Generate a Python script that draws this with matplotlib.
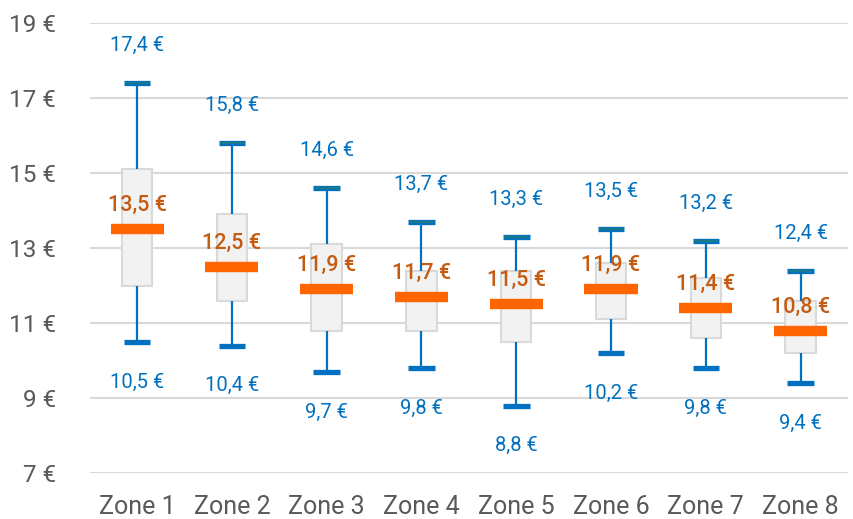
"""Price distribution per zone, box-style summary with labelled min/median/max."""

import matplotlib

matplotlib.use("Agg")
import matplotlib.pyplot as plt  # noqa: E402

plt.rcParams["font.family"] = ["Roboto", "DejaVu Sans"]

zones = ["Zone 1", "Zone 2", "Zone 3", "Zone 4", "Zone 5", "Zone 6", "Zone 7", "Zone 8"]
minimum = [10.5, 10.4, 9.7, 9.8, 8.8, 10.2, 9.8, 9.4]
q1 = [12.0, 11.6, 10.8, 10.8, 10.5, 11.1, 10.6, 10.2]
median = [13.5, 12.5, 11.9, 11.7, 11.5, 11.9, 11.4, 10.8]
q3 = [15.1, 13.9, 13.1, 12.4, 12.4, 12.6, 12.2, 11.6]
maximum = [17.4, 15.8, 14.6, 13.7, 13.3, 13.5, 13.2, 12.4]
y_ticks = [7, 9, 11, 13, 15, 17, 19]

BLUE = "#0070C0"
TEAL = "#1A7A8C"
ORANGE = "#FF6600"
ORANGE_TEXT = "#C55A11"
GREY_TEXT = "#595959"


def euro(value: float) -> str:
    return f"{value:.1f} €".replace(".", ",")


fig = plt.figure(figsize=(8.54, 5.19), dpi=100)
ax = fig.add_axes([0.105, 0.0886, 0.888, 0.8671])
positions = list(range(len(zones)))

ax.bar(positions, [hi - lo for hi, lo in zip(q3, q1)], bottom=q1, width=0.32,
       color="#F2F2F2", edgecolor="#D9D9D9", linewidth=1.5, zorder=2)
ax.vlines(positions, minimum, q1, color=BLUE, linewidth=1.6, zorder=3)
ax.vlines(positions, q3, maximum, color=BLUE, linewidth=1.6, zorder=3)
for x, lo, hi in zip(positions, minimum, maximum):
    ax.hlines(lo, x - 0.14, x + 0.14, color=BLUE, linewidth=3.8, zorder=4)
    ax.hlines(hi, x - 0.14, x + 0.14, color=BLUE, linewidth=3.8, zorder=4)
    ax.hlines(hi, x - 0.125, x + 0.125, color=TEAL, linewidth=1.6, zorder=5)
ax.hlines(median, [x - 0.28 for x in positions], [x + 0.28 for x in positions],
          color=ORANGE, linewidth=7.5, zorder=6)

for x, lo, med, hi in zip(positions, minimum, median, maximum):
    ax.annotate(euro(hi), (x, hi), xytext=(0, 27), textcoords="offset points",
                ha="center", va="center", color=BLUE, fontsize=14.5)
    ax.annotate(euro(lo), (x, lo), xytext=(0, -29), textcoords="offset points",
                ha="center", va="center", color=BLUE, fontsize=14.5)
    ax.annotate(euro(med), (x, med), xytext=(0, 17), textcoords="offset points",
                ha="center", va="center", color=ORANGE_TEXT, fontsize=15.5,
                fontweight="medium", zorder=7)

ax.set_xlim(-0.5, len(zones) - 0.5)
ax.set_ylim(7, 19)
ax.set_yticks(y_ticks)
ax.set_yticklabels([f"{t} €" for t in y_ticks])
ax.set_xticks(positions)
ax.set_xticklabels(zones)
ax.tick_params(axis="both", length=0, colors=GREY_TEXT)
ax.tick_params(axis="y", pad=24, labelsize=17.5)
ax.tick_params(axis="x", pad=16, labelsize=18)
ax.grid(axis="y", color="#D9D9D9", linewidth=1.5, zorder=0)
ax.set_axisbelow(True)
for spine in ax.spines.values():
    spine.set_visible(False)

fig.savefig("out.png", dpi=100)
